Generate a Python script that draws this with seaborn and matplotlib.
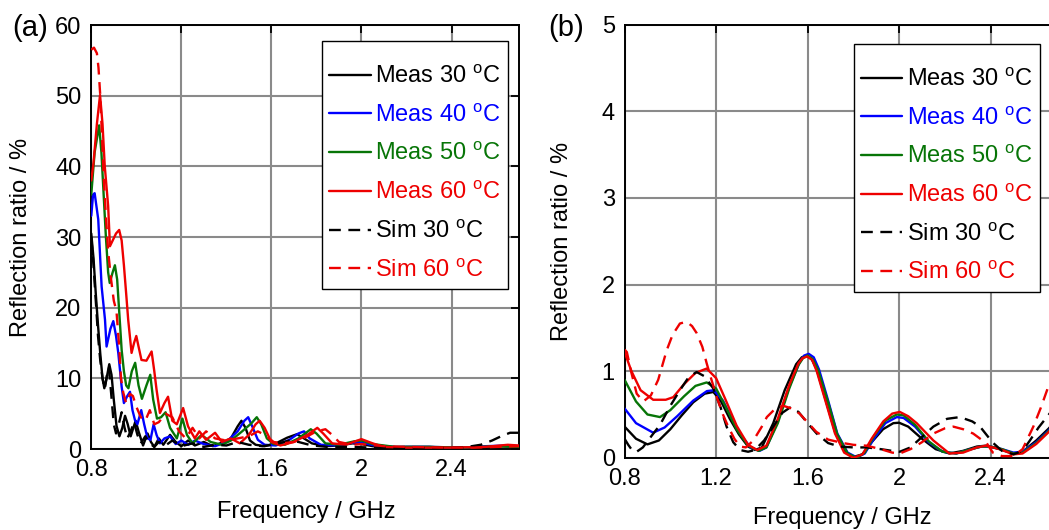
"""
Reflection ratio vs frequency, measured and simulated, two panels.
(a) full range, (b) zoom on 0-5 %.
"""

import matplotlib
matplotlib.use("Agg")
import matplotlib.pyplot as plt
from matplotlib.ticker import FormatStrFormatter
import seaborn as sns

# ---------------------------------------------------------------------------
# Data (frequency in GHz, reflection ratio in %)
# ---------------------------------------------------------------------------

# --- panel (a) ---
a_meas30_f = [0.800, 0.810, 0.820, 0.830, 0.840, 0.850, 0.858, 0.868, 0.880, 0.890,
              0.900, 0.912, 0.925, 0.938, 0.950, 0.962, 0.975, 0.985, 0.997, 1.010,
              1.030, 1.050, 1.065, 1.080, 1.100, 1.120, 1.150, 1.175, 1.200, 1.230,
              1.260, 1.300, 1.340, 1.380, 1.420, 1.450, 1.467, 1.485, 1.505, 1.530,
              1.570, 1.620, 1.670, 1.714, 1.740, 1.780, 1.840, 1.900, 1.960, 2.000,
              2.050, 2.120, 2.200, 2.300, 2.400, 2.500, 2.600, 2.700]
a_meas30_v = [30.5, 27.0, 22.0, 17.5, 13.5, 10.0, 8.6, 10.0, 12.0, 10.5,
              7.0, 3.3, 1.8, 3.0, 4.7, 3.5, 1.8, 2.8, 4.0, 2.5,
              0.5, 2.2, 1.0, 0.3, 1.5, 0.6, 2.0, 1.0, 0.4, 1.2,
              0.5, 1.0, 0.4, 0.9, 1.5, 3.2, 4.0, 3.0, 1.2, 0.6,
              0.4, 0.8, 1.6, 2.1, 1.6, 0.8, 0.4, 0.5, 0.8, 0.7,
              0.4, 0.2, 0.3, 0.3, 0.15, 0.2, 0.4, 0.3]

a_meas40_f = [0.800, 0.808, 0.815, 0.831, 0.846, 0.861, 0.868, 0.885, 0.898, 0.910,
              0.920, 0.935, 0.945, 0.960, 0.972, 0.983, 0.994, 1.005, 1.022, 1.035,
              1.050, 1.063, 1.077, 1.090, 1.105, 1.125, 1.150, 1.175, 1.200, 1.230,
              1.260, 1.300, 1.350, 1.400, 1.450, 1.480, 1.497, 1.515, 1.540, 1.570,
              1.620, 1.680, 1.720, 1.745, 1.770, 1.820, 1.900, 1.960, 2.000, 2.060,
              2.150, 2.300, 2.450, 2.550, 2.650, 2.700]
a_meas40_v = [33.0, 36.0, 36.2, 32.5, 23.0, 18.3, 14.5, 17.0, 18.1, 16.0,
              13.6, 8.8, 6.5, 7.5, 8.1, 5.5, 4.1, 3.5, 5.5, 3.5,
              1.5, 1.3, 3.5, 2.0, 0.8, 1.5, 1.8, 0.7, 1.2, 0.6,
              1.2, 0.7, 0.4, 1.0, 2.5, 4.0, 4.5, 3.2, 1.3, 0.6,
              0.5, 1.3, 2.2, 2.5, 1.5, 0.6, 0.5, 0.9, 0.9, 0.5,
              0.3, 0.3, 0.2, 0.4, 0.5, 0.4]

a_meas50_f = [0.800, 0.815, 0.835, 0.845, 0.855, 0.865, 0.875, 0.882, 0.895, 0.905,
              0.915, 0.925, 0.935, 0.945, 0.955, 0.965, 0.980, 0.995, 1.010, 1.025,
              1.045, 1.062, 1.075, 1.092, 1.110, 1.130, 1.150, 1.180, 1.205, 1.225,
              1.250, 1.290, 1.330, 1.380, 1.420, 1.470, 1.510, 1.535, 1.555, 1.580,
              1.610, 1.660, 1.720, 1.775, 1.800, 1.840, 1.900, 1.970, 2.000, 2.050,
              2.150, 2.300, 2.450, 2.600, 2.700]
a_meas50_v = [36.0, 42.0, 45.8, 42.0, 36.0, 30.0, 25.0, 23.5, 25.0, 26.0,
              24.0, 19.0, 14.0, 11.0, 9.0, 8.6, 11.0, 12.2, 9.0, 7.1,
              9.0, 10.5, 7.0, 4.3, 4.5, 5.2, 3.0, 1.5, 4.3, 2.0,
              0.8, 2.0, 1.0, 0.6, 1.2, 2.5, 3.6, 4.5, 3.5, 1.5,
              0.7, 0.6, 1.5, 2.8, 2.2, 0.8, 0.6, 1.1, 1.2, 0.7,
              0.3, 0.3, 0.2, 0.4, 0.3]

a_meas60_f = [0.800, 0.810, 0.825, 0.839, 0.850, 0.860, 0.875, 0.883, 0.895, 0.910,
              0.924, 0.935, 0.945, 0.955, 0.964, 0.979, 0.990, 1.000, 1.010, 1.023,
              1.045, 1.068, 1.080, 1.090, 1.105, 1.125, 1.141, 1.160, 1.180, 1.208,
              1.230, 1.260, 1.280, 1.310, 1.350, 1.380, 1.420, 1.460, 1.500, 1.530,
              1.548, 1.570, 1.600, 1.640, 1.700, 1.760, 1.804, 1.830, 1.870, 1.930,
              2.000, 2.050, 2.100, 2.200, 2.400, 2.550, 2.650, 2.700]
a_meas60_v = [38.0, 40.5, 46.0, 50.1, 46.0, 40.0, 34.4, 28.7, 29.5, 30.5,
              31.0, 29.5, 26.0, 22.0, 18.3, 13.6, 15.0, 16.0, 14.5, 12.6,
              12.5, 13.8, 11.0, 8.4, 5.1, 6.5, 7.4, 4.0, 3.5, 5.8,
              3.2, 1.5, 2.5, 1.3, 2.3, 1.0, 1.5, 0.8, 2.0, 3.5,
              4.0, 3.0, 1.0, 0.5, 1.0, 2.0, 3.0, 2.2, 0.8, 0.6,
              1.4, 0.8, 0.3, 0.2, 0.2, 0.3, 0.6, 0.5]

a_sim30_f = [0.800, 0.810, 0.820, 0.830, 0.840, 0.850, 0.860, 0.870, 0.878, 0.888,
             0.900, 0.910, 0.922, 0.935, 0.948, 0.960, 0.975, 0.990, 1.005, 1.020,
             1.040, 1.060, 1.080, 1.100, 1.130, 1.160, 1.200, 1.250, 1.300, 1.350,
             1.400, 1.450, 1.500, 1.560, 1.620, 1.680, 1.720, 1.780, 1.850, 1.950,
             2.050, 2.200, 2.350, 2.450, 2.530, 2.580, 2.620, 2.660, 2.700]
a_sim30_v = [30.0, 26.0, 21.0, 16.0, 12.5, 10.0, 8.5, 10.5, 11.5, 8.0,
             3.5, 2.2, 3.5, 5.2, 3.0, 1.5, 2.5, 3.8, 2.0, 0.8,
             1.8, 0.8, 0.3, 1.0, 0.5, 1.2, 0.4, 0.8, 0.3, 0.6,
             0.5, 1.0, 0.6, 0.4, 0.7, 1.2, 1.0, 0.5, 0.3, 0.3,
             0.2, 0.15, 0.15, 0.2, 0.6, 1.2, 1.8, 2.3, 2.3]

a_sim60_f = [0.800, 0.812, 0.825, 0.832, 0.840, 0.848, 0.856, 0.865, 0.875, 0.888,
             0.900, 0.912, 0.924, 0.932, 0.942, 0.955, 0.972, 0.985, 1.000, 1.020,
             1.040, 1.060, 1.080, 1.100, 1.130, 1.160, 1.190, 1.220, 1.250, 1.280,
             1.310, 1.350, 1.400, 1.450, 1.500, 1.540, 1.570, 1.610, 1.650, 1.700,
             1.760, 1.800, 1.840, 1.870, 1.900, 1.960, 2.000, 2.100, 2.200, 2.350,
             2.500, 2.600, 2.700]
a_sim60_v = [56.5, 56.8, 56.0, 54.0, 50.0, 44.0, 38.0, 33.0, 28.0, 24.0,
             21.0, 19.5, 14.5, 10.0, 8.0, 6.5, 7.8, 7.5, 6.0, 4.5,
             4.0, 5.5, 3.5, 3.8, 5.0, 4.5, 2.5, 1.5, 3.0, 1.5,
             2.5, 1.5, 1.2, 1.5, 1.8, 2.5, 2.0, 1.0, 0.8, 1.0,
             1.8, 2.5, 2.8, 2.0, 1.0, 0.6, 0.7, 0.4, 0.3, 0.2,
             0.2, 0.3, 0.4]

# --- panel (b) ---
b_meas30_f = [0.800, 0.850, 0.900, 0.950, 1.000, 1.050, 1.100, 1.150, 1.188, 1.220,
              1.260, 1.300, 1.340, 1.370, 1.400, 1.450, 1.500, 1.550, 1.575, 1.596,
              1.618, 1.640, 1.680, 1.720, 1.760, 1.800, 1.840, 1.880, 1.930, 1.975,
              2.000, 2.040, 2.100, 2.160, 2.220, 2.280, 2.340, 2.380, 2.440, 2.500,
              2.540, 2.600, 2.655, 2.700]
b_meas30_v = [0.36, 0.22, 0.155, 0.20, 0.33, 0.49, 0.64, 0.74, 0.76, 0.66,
              0.45, 0.27, 0.13, 0.09, 0.12, 0.40, 0.78, 1.08, 1.16, 1.18,
              1.14, 1.02, 0.66, 0.30, 0.08, 0.01, 0.04, 0.18, 0.33, 0.40,
              0.405, 0.36, 0.22, 0.10, 0.05, 0.08, 0.13, 0.14, 0.10, 0.045,
              0.07, 0.20, 0.34, 0.48]

b_meas40_f = [0.800, 0.850, 0.925, 0.975, 1.030, 1.100, 1.160, 1.190, 1.230, 1.270,
              1.310, 1.350, 1.390, 1.420, 1.470, 1.520, 1.565, 1.585, 1.605, 1.627,
              1.650, 1.690, 1.730, 1.775, 1.815, 1.850, 1.890, 1.940, 1.990, 2.020,
              2.070, 2.130, 2.190, 2.250, 2.300, 2.360, 2.400, 2.450, 2.500, 2.540,
              2.600, 2.655, 2.700]
b_meas40_v = [0.57, 0.40, 0.29, 0.35, 0.48, 0.66, 0.77, 0.78, 0.66, 0.45,
              0.26, 0.12, 0.08, 0.12, 0.42, 0.82, 1.10, 1.18, 1.20, 1.16,
              1.02, 0.66, 0.28, 0.06, 0.005, 0.05, 0.22, 0.40, 0.47, 0.46,
              0.36, 0.18, 0.07, 0.05, 0.09, 0.13, 0.13, 0.10, 0.06, 0.07,
              0.18, 0.32, 0.46]

b_meas50_f = [0.800, 0.850, 0.900, 0.955, 1.000, 1.060, 1.110, 1.159, 1.200, 1.240,
              1.290, 1.340, 1.385, 1.420, 1.470, 1.520, 1.560, 1.580, 1.600, 1.622,
              1.645, 1.690, 1.730, 1.775, 1.815, 1.850, 1.890, 1.940, 1.990, 2.020,
              2.070, 2.130, 2.190, 2.250, 2.300, 2.360, 2.400, 2.450, 2.500, 2.540,
              2.600, 2.655, 2.700]
b_meas50_v = [0.90, 0.65, 0.50, 0.47, 0.55, 0.71, 0.83, 0.87, 0.80, 0.60,
              0.33, 0.14, 0.08, 0.12, 0.40, 0.80, 1.07, 1.15, 1.18, 1.14,
              1.02, 0.64, 0.27, 0.05, 0.00, 0.06, 0.25, 0.43, 0.50, 0.49,
              0.38, 0.19, 0.07, 0.05, 0.09, 0.13, 0.13, 0.10, 0.05, 0.06,
              0.17, 0.31, 0.45]

b_meas60_f = [0.800, 0.830, 0.870, 0.925, 0.980, 1.013, 1.060, 1.110, 1.159, 1.200,
              1.240, 1.290, 1.340, 1.380, 1.420, 1.470, 1.520, 1.560, 1.578, 1.598,
              1.620, 1.640, 1.680, 1.720, 1.760, 1.800, 1.840, 1.880, 1.931, 1.970,
              2.003, 2.040, 2.077, 2.150, 2.220, 2.280, 2.340, 2.380, 2.440, 2.500,
              2.540, 2.600, 2.655, 2.700]
b_meas60_v = [1.22, 1.00, 0.78, 0.67, 0.67, 0.70, 0.85, 0.98, 1.03, 0.92,
              0.68, 0.37, 0.15, 0.09, 0.14, 0.45, 0.84, 1.09, 1.15, 1.17,
              1.13, 1.00, 0.64, 0.28, 0.06, 0.00, 0.04, 0.22, 0.42, 0.51,
              0.53, 0.48, 0.40, 0.20, 0.05, 0.06, 0.12, 0.14, 0.10, 0.04,
              0.05, 0.16, 0.30, 0.44]

b_sim30_f = [0.800, 0.816, 0.835, 0.853, 0.880, 0.920, 0.955, 1.000, 1.042, 1.080,
             1.115, 1.150, 1.188, 1.220, 1.246, 1.275, 1.305, 1.340, 1.370, 1.410,
             1.450, 1.490, 1.523, 1.560, 1.600, 1.640, 1.690, 1.740, 1.800, 1.860,
             1.920, 1.970, 2.003, 2.050, 2.100, 2.150, 2.210, 2.266, 2.320, 2.354,
             2.390, 2.412, 2.450, 2.500, 2.540, 2.572, 2.610, 2.655, 2.700]
b_sim30_v = [0.22, 0.15, 0.08, 0.07, 0.12, 0.26, 0.38, 0.60, 0.78, 0.93,
             0.99, 0.94, 0.80, 0.58, 0.36, 0.18, 0.09, 0.07, 0.09, 0.20,
             0.36, 0.52, 0.58, 0.53, 0.40, 0.28, 0.17, 0.13, 0.12, 0.12,
             0.10, 0.08, 0.07, 0.12, 0.24, 0.36, 0.45, 0.47, 0.42, 0.36,
             0.24, 0.17, 0.08, 0.04, 0.08, 0.20, 0.35, 0.50, 0.65]

b_sim60_f = [0.800, 0.810, 0.830, 0.853, 0.882, 0.915, 0.947, 0.984, 1.010, 1.042,
             1.071, 1.095, 1.115, 1.140, 1.159, 1.180, 1.203, 1.230, 1.253, 1.280,
             1.305, 1.330, 1.363, 1.400, 1.422, 1.460, 1.494, 1.530, 1.565, 1.600,
             1.638, 1.690, 1.756, 1.800, 1.858, 1.920, 1.970, 2.003, 2.050, 2.100,
             2.150, 2.200, 2.237, 2.280, 2.324, 2.360, 2.383, 2.410, 2.450, 2.500,
             2.540, 2.587, 2.620, 2.655, 2.700]
b_sim60_v = [1.25, 1.22, 0.98, 0.74, 0.65, 0.72, 0.90, 1.24, 1.42, 1.55,
             1.57, 1.52, 1.44, 1.28, 1.09, 0.90, 0.70, 0.50, 0.36, 0.22,
             0.13, 0.12, 0.20, 0.36, 0.47, 0.57, 0.60, 0.57, 0.51, 0.41,
             0.30, 0.21, 0.17, 0.15, 0.14, 0.10, 0.06, 0.05, 0.10, 0.18,
             0.28, 0.34, 0.36, 0.33, 0.28, 0.21, 0.17, 0.06, 0.02, 0.02,
             0.10, 0.36, 0.58, 0.84, 1.10]

LABELS = [r"Meas 30 $^\mathregular{o}$C", r"Meas 40 $^\mathregular{o}$C",
          r"Meas 50 $^\mathregular{o}$C", r"Meas 60 $^\mathregular{o}$C",
          r"Sim 30 $^\mathregular{o}$C", r"Sim 60 $^\mathregular{o}$C"]
COLORS = ["#000000", "#0000ff", "#077507", "#ee0000", "#000000", "#ee0000"]
DASHED = [False, False, False, False, True, True]

FREQ_TICKS = [0.8, 1.2, 1.6, 2.0, 2.4]
FS = 17

# ---------------------------------------------------------------------------
# Style
# ---------------------------------------------------------------------------
sns.set_theme(style="white")
plt.rcParams["font.family"] = ["Liberation Sans", "DejaVu Sans"]
plt.rcParams["mathtext.fontset"] = "custom"
plt.rcParams["mathtext.rm"] = "Liberation Sans"
plt.rcParams["text.color"] = "black"
plt.rcParams["axes.labelcolor"] = "black"


def draw_panel(ax, series, ymax, yticks, legend_anchor, ylabel_x, xlabel_y):
    for (f, v), label, color, dashed in zip(series, LABELS, COLORS, DASHED):
        sns.lineplot(x=f, y=v, ax=ax, color=color, lw=1.7, label=label,
                     estimator=None, sort=False, zorder=3)
        if dashed:
            ax.lines[-1].set_dashes((5, 3.2))

    ax.set_xlim(0.8, 2.7)
    ax.set_ylim(0, ymax)
    ax.set_xticks(FREQ_TICKS)
    ax.set_yticks(yticks)
    ax.xaxis.set_major_formatter(FormatStrFormatter("%g"))
    ax.grid(True, color="#8a8a8a", lw=1.5, zorder=0)
    ax.set_axisbelow(True)
    ax.tick_params(direction="in", length=6, width=1.3, top=True, right=True,
                   labelsize=FS, pad=7, colors="black")
    for sp in ax.spines.values():
        sp.set_color("black")
        sp.set_linewidth(1.4)

    ax.set_xlabel("Frequency / GHz", fontsize=FS)
    ax.set_ylabel("Reflection ratio / %", fontsize=FS)
    ax.xaxis.set_label_coords(0.502, xlabel_y)
    ax.yaxis.set_label_coords(ylabel_x, 0.5)
    ax.xaxis.label.set_va("center")
    ax.yaxis.label.set_va("center")

    # a tiny blank title gives the extra room above the first entry
    leg = ax.legend(loc="upper right", bbox_to_anchor=legend_anchor,
                    borderaxespad=0, frameon=True, fancybox=False,
                    edgecolor="black", framealpha=1, fontsize=FS,
                    handlelength=1.75, handletextpad=0.2, labelspacing=0.67,
                    borderpad=0.3, title=" ", title_fontsize=1)
    leg.get_frame().set_linewidth(1.0)
    for text, line in zip(leg.get_texts(), leg.get_lines()):
        text.set_color(line.get_color())


fig = plt.figure(figsize=(10.49, 5.30), dpi=100)
ax_a = fig.add_axes([0.0870, 0.1528, 0.4078, 0.800])
ax_b = fig.add_axes([0.5954, 0.1362, 0.4143, 0.8175])

series_a = [(a_meas30_f, a_meas30_v), (a_meas40_f, a_meas40_v),
            (a_meas50_f, a_meas50_v), (a_meas60_f, a_meas60_v),
            (a_sim30_f, a_sim30_v), (a_sim60_f, a_sim60_v)]
series_b = [(b_meas30_f, b_meas30_v), (b_meas40_f, b_meas40_v),
            (b_meas50_f, b_meas50_v), (b_meas60_f, b_meas60_v),
            (b_sim30_f, b_sim30_v), (b_sim60_f, b_sim60_v)]

draw_panel(ax_a, series_a, 60, range(0, 61, 10), (0.974, 0.962), -0.164, -0.148)
draw_panel(ax_b, series_b, 5, range(0, 6), (0.955, 0.955), -0.144, -0.139)

fig.text(0.0114, 0.932, "(a)", fontsize=21, va="baseline")
fig.text(0.523, 0.932, "(b)", fontsize=21, va="baseline")

fig.savefig("out.png", dpi=100)
plt.close(fig)
